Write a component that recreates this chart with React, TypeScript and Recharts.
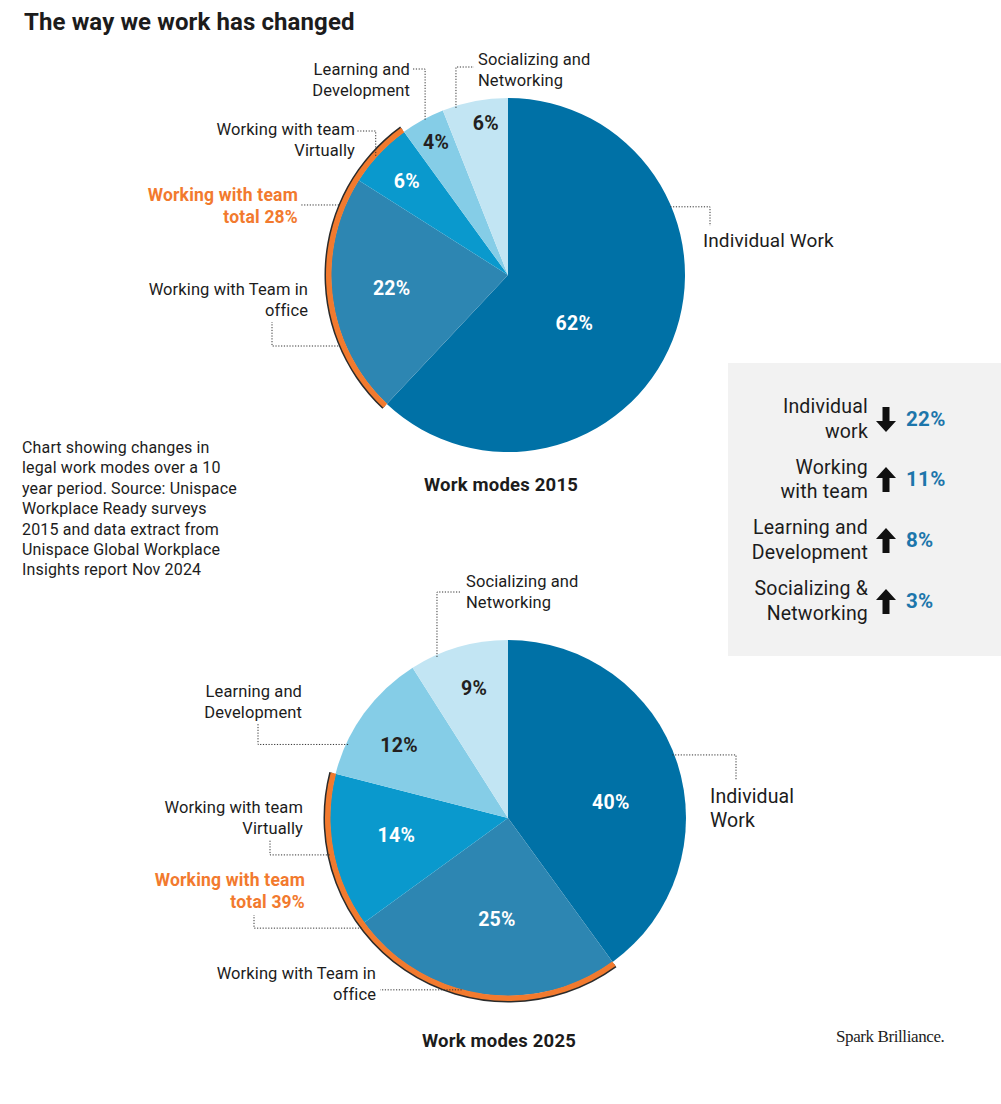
import { PieChart, Pie, Cell } from 'recharts';

const FONT = 'Roboto, "Liberation Sans", Arial, sans-serif';

// ---- data ----
const categories = [
  'Individual Work',
  'Working with Team in office',
  'Working with team Virtually',
  'Learning and Development',
  'Socializing and Networking',
];
const share2015 = [62, 22, 6, 4, 6];
const share2025 = [40, 25, 14, 12, 9];
const teamIdx = [1, 2];

const changeLabels = [
  ['Individual', 'work'],
  ['Working', 'with team'],
  ['Learning and', 'Development'],
  ['Socializing &', 'Networking'],
];
const changeValues = [22, 11, 8, 3];
const changeDirections = ['down', 'up', 'up', 'up'];

const blurb = [
  'Chart showing changes in',
  'legal work modes over a 10',
  'year period. Source: Unispace',
  'Workplace Ready surveys',
  '2015 and data extract from',
  'Unispace Global Workplace',
  'Insights report Nov 2024',
];

// ---- styles ----
const COLORS = ['#0071a6', '#2d86b2', '#0a99cd', '#85cde7', '#c2e5f3'];
const PCT_TEXT = ['#fff', '#fff', '#fff', '#231f20', '#231f20'];
const ORANGE = '#f27a2e';
const BLUE_TXT = '#1d76ab';
const INK = '#1c1c1c';
const LH = 21.5;

type Step = ['h' | 'v', number];
interface Note {
  lines: string[];
  at: number;
  rho: number;
  path: Step[];
  tx: number;
  ty: number;
  anchor: 'start' | 'end';
  size?: number;
  lh?: number;
  color?: string;
  bold?: boolean;
}
interface Layout {
  cx: number;
  cy: number;
  r: number;
  pct: { r: number; d: number }[];
  notes: Note[];
  total: Note;
}

const layout2015: Layout = {
  cx: 508, cy: 275, r: 177,
  pct: [{ r: 82, d: 14.4 }, { r: 117, d: 0.8 }, { r: 138, d: -0.3 }, { r: 151, d: 0.4 }, { r: 153, d: 2.5 }],
  notes: [
    { lines: ['Individual Work'], at: 67.2, rho: 176, path: [['h', 202], ['v', -49]], tx: 195, ty: -35, anchor: 'start', size: 19 },
    { lines: ['Working with Team in', 'office'], at: 247.3, rho: 184, path: [['h', -236], ['v', 47]], tx: -200, ty: 14, anchor: 'end' },
    { lines: ['Working with team', 'Virtually'], at: 312, rho: 178, path: [['v', -144], ['h', -151]], tx: -153, ty: -146, anchor: 'end' },
    { lines: ['Learning and', 'Development'], at: 331.9, rho: 176, path: [['v', -206], ['h', -96]], tx: -98, ty: -206, anchor: 'end' },
    { lines: ['Socializing and', 'Networking'], at: 342.7, rho: 175, path: [['v', -208], ['h', -34]], tx: -30, ty: -216, anchor: 'start' },
  ],
  total: { lines: [], at: 292.5, rho: 183, path: [['h', -208]], tx: -210, ty: -80, anchor: 'end', color: ORANGE, bold: true, size: 17.5 },
};

const layout2025: Layout = {
  cx: 508, cy: 818, r: 178,
  pct: [{ r: 104, d: 9.7 }, { r: 102, d: -2.8 }, { r: 113, d: 1.7 }, { r: 131, d: -2.2 }, { r: 134, d: 1.5 }],
  notes: [
    { lines: ['Individual', 'Work'], at: 69, rho: 176, path: [['h', 228], ['v', -38]], tx: 202, ty: -22, anchor: 'start', size: 19.5, lh: 24 },
    { lines: ['Working with Team in', 'office'], at: 195.1, rho: 178, path: [['h', -128]], tx: -132, ty: 155, anchor: 'end' },
    { lines: ['Working with team', 'Virtually'], at: 258.3, rho: 182, path: [['h', -238], ['v', 22]], tx: -205, ty: -11, anchor: 'end' },
    { lines: ['Learning and', 'Development'], at: 294.7, rho: 176, path: [['h', -250], ['v', -95]], tx: -206, ty: -127, anchor: 'end' },
    { lines: ['Socializing and', 'Networking'], at: 336.2, rho: 176, path: [['v', -226], ['h', -48]], tx: -42, ty: -237, anchor: 'start' },
  ],
  total: { lines: [], at: 233, rho: 183, path: [['h', -254], ['v', 97]], tx: -203, ty: 62, anchor: 'end', color: ORANGE, bold: true, size: 17.5 },
};

function polar(cx: number, cy: number, rho: number, theta: number) {
  const a = (theta * Math.PI) / 180;
  return [cx + rho * Math.sin(a), cy - rho * Math.cos(a)];
}

function NoteMark({ note, cx, cy }: { note: Note; cx: number; cy: number }) {
  let [x, y] = polar(cx, cy, note.rho, note.at);
  const pts = [[x, y]];
  for (const [k, v] of note.path) {
    if (k === 'h') x = cx + v;
    else y = cy + v;
    pts.push([x, y]);
  }
  const size = note.size ?? 16.5;
  const lh = note.lh ?? LH;
  return (
    <g>
      <polyline
        points={pts.map((p) => p.join(',')).join(' ')}
        fill="none"
        stroke="#333"
        strokeWidth={1}
        strokeDasharray="1.2 1.6"
      />
      {note.lines.map((t, i) => (
        <text
          key={i}
          x={cx + note.tx}
          y={cy + note.ty + i * lh}
          textAnchor={note.anchor}
          dominantBaseline="central"
          fontSize={size}
          fontFamily={FONT}
          fontWeight={note.bold ? 700 : 400}
          letterSpacing={note.bold ? 0.2 : 0.1}
          fill={note.color ?? INK}
        >
          {t}
        </text>
      ))}
    </g>
  );
}

function sliceLabel(layout: Layout, shares: number[]) {
  return (props: any) => {
    const { index, midAngle } = props;
    const cx = props.cx ?? layout.cx;
    const cy = props.cy ?? layout.cy;
    const mid = 90 - midAngle;
    const p = layout.pct[index];
    const [x, y] = polar(cx, cy, p.r, mid + p.d);
    return (
      <g key={`l${index}`}>
        <text
          x={x}
          y={y}
          textAnchor="middle"
          dominantBaseline="central"
          fontSize={19.5}
          fontWeight={700}
          fontFamily={FONT}
          letterSpacing={0.3}
          fill={PCT_TEXT[index]}
        >
          {shares[index]}%
        </text>
        <NoteMark note={layout.notes[index]} cx={cx} cy={cy} />
      </g>
    );
  };
}

function totalLabel(layout: Layout, shares: number[]) {
  const total = teamIdx.reduce((s, i) => s + shares[i], 0);
  return (props: any) => {
    if (props.index !== 1) return <g key={`t${props.index}`} />;
    const cx = props.cx ?? layout.cx;
    const cy = props.cy ?? layout.cy;
    const note = { ...layout.total, lines: ['Working with team', `total ${total}%`] };
    return (
      <g key="total">
        <NoteMark note={note} cx={cx} cy={cy} />
      </g>
    );
  };
}

function arcData(shares: number[]) {
  const team = teamIdx.reduce((s, i) => s + shares[i], 0);
  const before = shares.slice(0, teamIdx[0]).reduce((s, v) => s + v, 0);
  return [
    { name: 'before', value: before },
    { name: 'team', value: team },
    { name: 'after', value: 100 - before - team },
  ];
}

function PieSet({ layout, shares }: { layout: Layout; shares: number[] }) {
  const data = categories.map((name, i) => ({ name, value: shares[i] }));
  const arc = arcData(shares);
  return [
    <Pie
      key="main"
      data={data}
      dataKey="value"
      cx={layout.cx}
      cy={layout.cy}
      outerRadius={layout.r}
      startAngle={90}
      endAngle={-270}
      stroke="none"
      isAnimationActive={false}
      labelLine={false}
      label={sliceLabel(layout, shares)}
    >
      {data.map((_, i) => (
        <Cell key={i} fill={COLORS[i]} />
      ))}
    </Pie>,
    <Pie
      key="shadow"
      data={arc}
      dataKey="value"
      cx={layout.cx}
      cy={layout.cy}
      innerRadius={layout.r + 2}
      outerRadius={layout.r + 6.5}
      startAngle={90}
      endAngle={-270}
      stroke="none"
      isAnimationActive={false}
    >
      {arc.map((_, i) => (
        <Cell key={i} fill={i === 1 ? '#2b2b2b' : 'none'} />
      ))}
    </Pie>,
    <Pie
      key="arc"
      data={arc}
      dataKey="value"
      cx={layout.cx}
      cy={layout.cy}
      innerRadius={layout.r - 0.5}
      outerRadius={layout.r + 5}
      startAngle={90}
      endAngle={-270}
      stroke="none"
      isAnimationActive={false}
      labelLine={false}
      label={totalLabel(layout, shares)}
    >
      {arc.map((_, i) => (
        <Cell key={i} fill={i === 1 ? ORANGE : 'none'} />
      ))}
    </Pie>,
  ];
}

function Arrow({ dir }: { dir: string }) {
  return (
    <svg width={20} height={25} viewBox="0 0 20 25" style={{ display: 'block' }}>
      <path
        d="M10 0 L20 11 L13.5 11 L13.5 25 L6.5 25 L6.5 11 L0 11 Z"
        fill="#111"
        transform={dir === 'down' ? 'rotate(180 10 12.5)' : undefined}
      />
    </svg>
  );
}

export default function App() {
  return (
    <div
      style={{
        position: 'absolute',
        left: 0,
        top: 0,
        width: 1001,
        height: 1104,
        background: '#fff',
        fontFamily: FONT,
        color: INK,
        overflow: 'hidden',
      }}
    >
      <div style={{ position: 'absolute', left: 24, top: 7, fontSize: 24, fontWeight: 700, lineHeight: '30px', letterSpacing: 0.1 }}>
        The way we work has changed
      </div>

      {/* source note */}
      <div style={{ position: 'absolute', left: 22, top: 438, fontSize: 16, lineHeight: '20.4px', letterSpacing: 0.15 }}>
        {blurb.map((t, i) => (
          <div key={i}>{t}</div>
        ))}
      </div>

      {/* change box */}
      <div style={{ position: 'absolute', left: 728, top: 363, width: 273, height: 293, background: '#f2f2f2' }}>
        {changeLabels.map((lines, i) => {
          const mid = 56 + i * 60.7;
          return (
            <div key={i}>
              <div
                style={{
                  position: 'absolute',
                  right: 133,
                  top: mid - 24,
                  textAlign: 'right',
                  fontSize: 19.5,
                  lineHeight: '24.5px',
                  whiteSpace: 'nowrap',
                  letterSpacing: 0.2,
                }}
              >
                {lines.map((t, j) => (
                  <div key={j}>{t}</div>
                ))}
              </div>
              <div style={{ position: 'absolute', left: 148, top: mid - 12.5 }}>
                <Arrow dir={changeDirections[i]} />
              </div>
              <div
                style={{
                  position: 'absolute',
                  left: 178,
                  top: mid - 12.5,
                  fontSize: 20.5,
                  lineHeight: '25px',
                  fontWeight: 700,
                  letterSpacing: 0.3,
                  color: BLUE_TXT,
                }}
              >
                {changeValues[i]}%
              </div>
            </div>
          );
        })}
      </div>

      <div style={{ position: 'absolute', left: 0, top: 0 }}>
        <PieChart width={1001} height={1104} margin={{ top: 0, right: 0, bottom: 0, left: 0 }}>
          {PieSet({ layout: layout2015, shares: share2015 })}
          {PieSet({ layout: layout2025, shares: share2025 })}
        </PieChart>
      </div>

      <div style={{ position: 'absolute', left: 401, width: 200, top: 473, textAlign: 'center', fontSize: 18.5, fontWeight: 700, lineHeight: '24px', letterSpacing: 0.2 }}>
        Work modes 2015
      </div>
      <div style={{ position: 'absolute', left: 399, width: 200, top: 1029, textAlign: 'center', fontSize: 18.5, fontWeight: 700, lineHeight: '24px', letterSpacing: 0.2 }}>
        Work modes 2025
      </div>
      <div style={{ position: 'absolute', left: 836, top: 1026, fontSize: 17, lineHeight: '22px', fontFamily: '"Liberation Serif", "DejaVu Serif", serif', letterSpacing: -0.4 }}>
        Spark Brilliance.
      </div>
    </div>
  );
}
